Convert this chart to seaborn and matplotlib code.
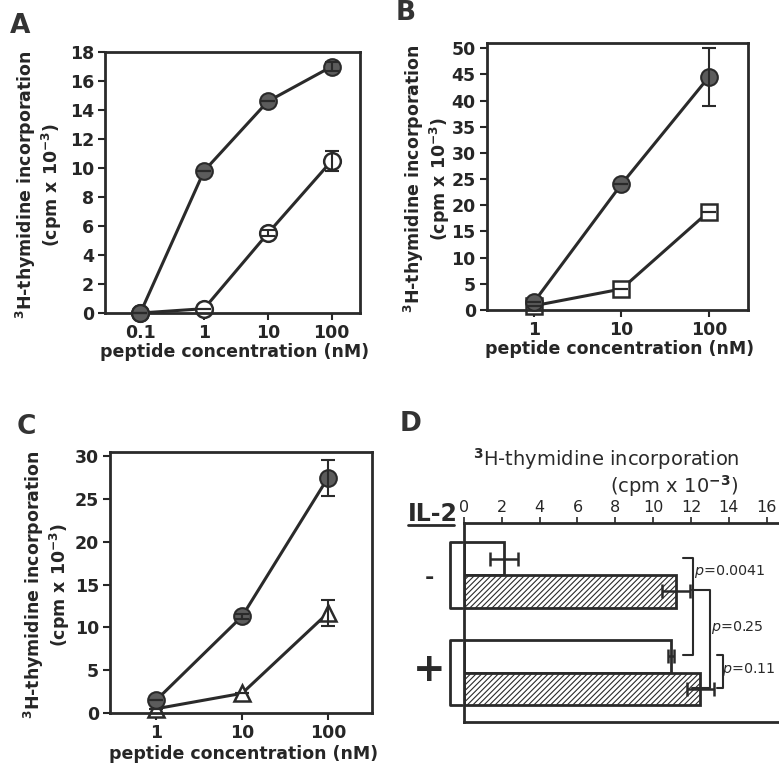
import matplotlib
matplotlib.use('Agg')
import matplotlib.pyplot as plt
from matplotlib.lines import Line2D
import seaborn as sns
import numpy as np

# 数据
a_conc = [0.1, 1, 10, 100]
a_filled = [0.0, 9.8, 14.6, 17.0]
a_filled_err = [0.0, 0.0, 0.0, 0.3]
a_open = [0.0, 0.3, 5.5, 10.5]
a_open_err = [0.0, 0.0, 0.2, 0.7]

b_conc = [1, 10, 100]
b_filled = [1.5, 24.0, 44.5]
b_filled_err = [0.0, 0.0, 5.5]
b_open = [0.8, 4.0, 18.8]
b_open_err = [0.0, 0.0, 0.0]

c_conc = [1, 10, 100]
c_filled = [1.5, 11.3, 27.5]
c_filled_err = [0.0, 0.3, 2.1]
c_open = [0.5, 2.3, 11.7]
c_open_err = [0.0, 0.0, 1.5]

d_groups = ['-', '+']
d_open = [2.1, 10.95]
d_open_err = [0.75, 0.15]
d_hatched = [11.2, 12.5]
d_hatched_err = [0.75, 0.7]
d_pvals = ['0.0041', '0.25', '0.11']

sns.set_style('white')
plt.rcParams['font.family'] = ['DejaVu Sans']
plt.rcParams['mathtext.fontset'] = 'custom'
plt.rcParams['mathtext.rm'] = 'DejaVu Sans:bold'
plt.rcParams['mathtext.bf'] = 'DejaVu Sans:bold'
plt.rcParams['mathtext.it'] = 'DejaVu Sans:italic'
plt.rcParams['mathtext.default'] = 'rm'
plt.rcParams['hatch.linewidth'] = 0.8

LINE = '#2a2a2a'
FILL = '#5c5c5c'
YLAB = '$^3$H-thymidine incorporation\n(cpm x 10$^{-3}$)'

fig = plt.figure(figsize=(7.79, 7.71), dpi=100)


def curve_panel(rect, xlim, conc, filled, filled_err, opn, opn_err, open_marker,
                xticks, ylim, ystep, ylab_x, xlab_y):
    ax = fig.add_axes(rect)
    ax.set_xscale('log')
    sns.lineplot(x=conc, y=filled, ax=ax, color=LINE, lw=2.2, marker='o',
                 markersize=12, markerfacecolor=FILL, markeredgecolor=LINE,
                 markeredgewidth=1.5, zorder=3, clip_on=False)
    sns.lineplot(x=conc, y=opn, ax=ax, color=LINE, lw=2.2, marker=open_marker,
                 markersize=12, markerfacecolor='white', markeredgecolor=LINE,
                 markeredgewidth=1.8, zorder=2, clip_on=False)
    ax.errorbar(conc, filled, yerr=filled_err, fmt='none', ecolor=LINE,
                elinewidth=1.5, capsize=5, capthick=1.5, zorder=4, clip_on=False)
    ax.errorbar(conc, opn, yerr=opn_err, fmt='none', ecolor=LINE,
                elinewidth=1.5, capsize=5, capthick=1.5, zorder=4, clip_on=False)
    ax.set_xlim(*xlim)
    ax.set_ylim(*ylim)
    ax.set_xticks(xticks)
    ax.set_xticklabels([('%g' % t) for t in xticks])
    ax.xaxis.set_minor_locator(matplotlib.ticker.NullLocator())
    ax.set_yticks(np.arange(0, ylim[1] + 0.01, ystep))
    ax.tick_params(axis='both', which='major', direction='out', length=5,
                   width=1.5, labelsize=12.5, pad=3, bottom=True, left=True)
    for lab in ax.get_xticklabels() + ax.get_yticklabels():
        lab.set_fontweight('bold')
    for sp in ax.spines.values():
        sp.set_linewidth(2)
        sp.set_color(LINE)
    ax.set_ylabel(YLAB, fontsize=12.5, fontweight='bold', linespacing=1.1)
    ax.yaxis.set_label_coords(ylab_x, 0.49)
    ax.set_xlabel('peptide concentration (nM)', fontsize=12.5, fontweight='bold')
    ax.xaxis.set_label_coords(0.51, xlab_y)
    return ax


ax_a = curve_panel([0.1348, 0.594, 0.327, 0.3385], (0.028, 275), a_conc, a_filled,
                   a_filled_err, a_open, a_open_err, 'o', [0.1, 1, 10, 100],
                   (0, 18), 2, -0.16, -0.115)
ax_b = curve_panel([0.625, 0.598, 0.335, 0.3463], (0.29, 279), b_conc, b_filled,
                   b_filled_err, b_open, b_open_err, 's', [1, 10, 100],
                   (0, 51), 5, -0.134, -0.112)
ax_c = curve_panel([0.1412, 0.0752, 0.3363, 0.3385], (0.29, 325), c_conc, c_filled,
                   c_filled_err, c_open, c_open_err, '^', [1, 10, 100],
                   (0, 30.5), 5, -0.145, -0.123)

# 面板 D：水平条形图
ax_d = fig.add_axes([0.5956, 0.0636, 0.4044, 0.2581])
pos_open = [g * 3 + 1.1 for g in range(len(d_groups))]
pos_hatch = [g * 3 + 2.1 for g in range(len(d_groups))]
ax_d.barh(pos_open, d_open, height=1.0, color='white', edgecolor=LINE, lw=2, zorder=2)
ax_d.barh(pos_hatch, d_hatched, height=1.0, color='white', edgecolor=LINE, lw=2,
          hatch='//////', zorder=2)
ax_d.errorbar(d_open, pos_open, xerr=d_open_err, fmt='none', ecolor=LINE,
              elinewidth=1.8, capsize=5, capthick=1.8, zorder=3)
ax_d.errorbar(d_hatched, pos_hatch, xerr=d_hatched_err, fmt='none', ecolor=LINE,
              elinewidth=1.8, capsize=5, capthick=1.8, zorder=3)
ax_d.set_xlim(0, 16.65)
ax_d.set_ylim(6.12, 0)
ax_d.xaxis.tick_top()
ax_d.set_xticks(np.arange(0, 17, 2))
ax_d.tick_params(axis='x', direction='out', length=4, width=1.2, labelsize=11.5, pad=2)
ax_d.set_yticks([3.1])
ax_d.set_yticklabels([''])
ax_d.tick_params(axis='y', direction='out', length=4, width=1.5)
ax_d.spines['right'].set_visible(False)
for k in ['left', 'top', 'bottom']:
    ax_d.spines[k].set_linewidth(2)
    ax_d.spines[k].set_color(LINE)

# 左侧分组括号和 IL-2 标记
for g, lab in enumerate(d_groups):
    y0 = pos_open[g] - 0.5
    y1 = pos_hatch[g] + 0.5
    ax_d.plot([-0.1, -0.75, -0.75, -0.1], [y0, y0, y1, y1], color=LINE, lw=2,
              clip_on=False)
fig.text(429 / 779, 1 - 578 / 771, '-', fontsize=16, fontweight='bold',
         ha='center', va='center', color=LINE)
fig.text(429 / 779, 1 - 670 / 771, '+', fontsize=28, fontweight='bold',
         ha='center', va='center', color=LINE)

# p 值括号
brackets = [(11.55, 12.1, 1.08, 4.06), (12.05, 13.0, 2.05, 5.08), (13.36, 13.7, 4.06, 5.08)]
text_pos = [(12.15, 1.5), (13.05, 3.23), (13.66, 4.52)]
for (x0, x1, y0, y1), (tx, ty), pv in zip(brackets, text_pos, d_pvals):
    ax_d.plot([x0, x1, x1, x0], [y0, y0, y1, y1], color=LINE, lw=1.5, clip_on=False)
    ax_d.text(tx, ty, r'$\mathit{p}$=' + pv, fontsize=10.3, ha='left', va='center',
              color=LINE, clip_on=False)

fig.text(606 / 779, 1 - 459 / 771, '$^3$H-thymidine incorporation', fontsize=14,
         ha='center', va='center', color=LINE)
fig.text(738 / 779, 1 - 486 / 771, '(cpm x 10$^{-3}$)', fontsize=14,
         ha='right', va='center', color=LINE)
fig.text(408 / 779, 1 - 521 / 771, 'IL-2', fontsize=17, fontweight='bold',
         ha='left', va='baseline', color=LINE)
fig.add_artist(Line2D([408 / 779, 454 / 779], [1 - 525 / 771, 1 - 525 / 771],
                      color=LINE, lw=2))

# 面板字母
for letter, x, y in [('A', 10, 26), ('B', 396, 13), ('C', 17, 427), ('D', 400, 424)]:
    fig.text(x / 779, 1 - y / 771, letter, fontsize=19, fontweight='bold',
             ha='left', va='center', color='#333333')

plt.savefig('out.png', dpi=100)
plt.close()
